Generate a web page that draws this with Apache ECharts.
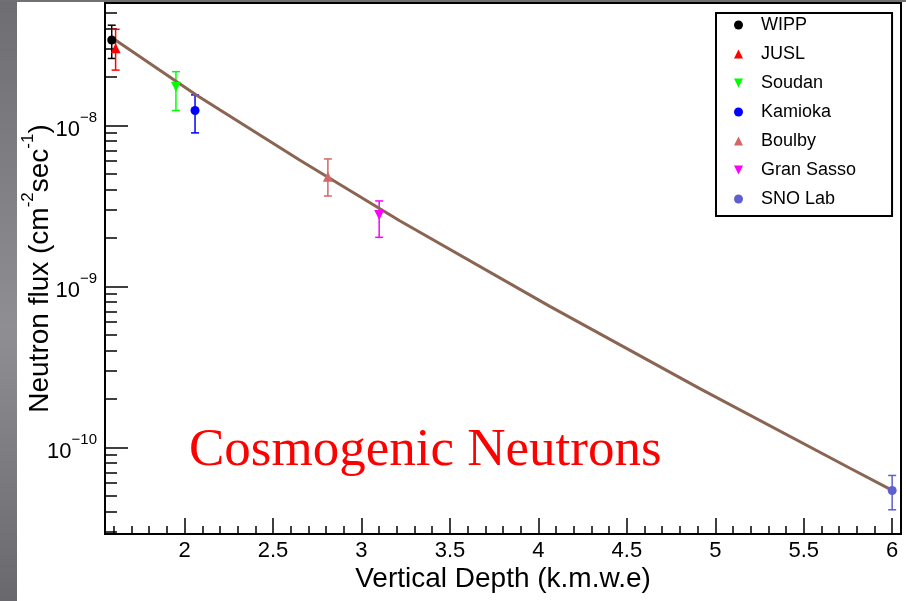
<!DOCTYPE html>
<html>
<head>
<meta charset="utf-8">
<script src="https://cdn.jsdelivr.net/npm/echarts@6/dist/echarts.min.js"></script>
<style>
  html, body { margin: 0; padding: 0; background: #ffffff; }
  #chart { width: 906px; height: 601px; }
</style>
</head>
<body>
<div id="chart"></div>
<script>
// ---- data ----
const labs    = ['WIPP', 'JUSL', 'Soudan', 'Kamioka', 'Boulby', 'Gran Sasso', 'SNO Lab'];
const depth   = [1.588, 1.61, 1.951, 2.059, 2.81, 3.10, 6.00];
const flux    = [3.4e-8, 3.02e-8, 1.74e-8, 1.24e-8, 4.8e-9, 2.78e-9, 5.4e-11];
const fluxHi  = [4.2e-8, 3.96e-8, 2.16e-8, 1.55e-8, 6.2e-9, 3.4e-9, 6.7e-11];
const fluxLo  = [2.61e-8, 2.21e-8, 1.24e-8, 9.0e-9, 3.65e-9, 2.02e-9, 4.1e-11];

// fit curve
const fitDepth = [1.592, 2.066, 2.650, 3.216, 4.065, 4.913, 5.762, 6.017];
const fitFlux  = [3.50e-8, 1.547e-8, 6.1e-9, 2.56e-9, 7.52e-10, 2.32e-10, 7.43e-11, 5.3e-11];

// tick positions
const xMajorTicks = [2, 2.5, 3, 3.5, 4, 4.5, 5, 5.5, 6];
const xMinorTicks = [1.6, 1.7, 1.8, 1.9, 2.1, 2.2, 2.3, 2.4, 2.6, 2.7, 2.8, 2.9, 3.1, 3.2, 3.3, 3.4,
                     3.6, 3.7, 3.8, 3.9, 4.1, 4.2, 4.3, 4.4, 4.6, 4.7, 4.8, 4.9, 5.1, 5.2, 5.3, 5.4,
                     5.6, 5.7, 5.8, 5.9, 6.0];
const yMajorTicks = [1e-10, 1e-9, 1e-8];
const yMinorTicks = [3e-11, 4e-11, 5e-11, 6e-11, 7e-11, 8e-11, 9e-11,
                     2e-10, 3e-10, 4e-10, 5e-10, 6e-10, 7e-10, 8e-10, 9e-10,
                     2e-9, 3e-9, 4e-9, 5e-9, 6e-9, 7e-9, 8e-9, 9e-9,
                     2e-8, 3e-8, 4e-8, 5e-8];

// ---- styles ----
const colors  = ['#000000', '#ff0000', '#00ff00', '#0000ff', '#d26767', '#ff00ff', '#5f5fd2'];
const TRI_UP   = 'path://M5,0 L10,10 L0,10 Z';
const TRI_DOWN = 'path://M0,0 L10,0 L5,10 Z';
const symbols = ['circle', TRI_UP, TRI_DOWN, 'circle', TRI_UP, TRI_DOWN, 'circle'];
const FONT = '"Liberation Sans", Arial, Helvetica, sans-serif';
const X_MIN = 1.55, X_MAX = 6.05, Y_MIN = 2.9e-11, Y_MAX = 5.77e-8;

const chart = echarts.init(document.getElementById('chart'), null, { renderer: 'canvas' });

const scatterSeries = labs.map((name, i) => ({
  name: name,
  type: 'scatter',
  xAxisIndex: 0, yAxisIndex: 0,
  symbol: symbols[i],
  symbolSize: symbols[i] === 'circle' ? 9 : 10,
  itemStyle: { color: colors[i], opacity: 1 },
  data: [[depth[i], flux[i]]],
  z: 5
}));

const option = {
  animation: false,
  backgroundColor: '#ffffff',
  textStyle: { fontFamily: FONT },
  grid: {
    left: 105, right: 5, top: 3, bottom: 67,
    outerBoundsMode: 'none',
    containLabel: false,
    show: true, borderColor: '#000', borderWidth: 2, backgroundColor: '#ffffff'
  },
  legend: {
    orient: 'vertical',
    left: 716, top: 13,
    data: labs.map((n, i) => ({ name: n, icon: symbols[i] })),
    backgroundColor: '#ffffff',
    borderColor: '#000', borderWidth: 2, borderRadius: 0,
    padding: [3, 36, 8, 18],
    itemWidth: 9, itemHeight: 9, itemGap: 11,
    textStyle: { fontFamily: FONT, fontSize: 18, color: '#000', lineHeight: 18, padding: [0, 0, 0, 13] },
    selectedMode: false
  },
  xAxis: [
    {
      type: 'value', min: X_MIN, max: X_MAX, position: 'bottom',
      name: 'Vertical Depth (k.m.w.e)', nameLocation: 'middle', nameGap: 31,
      nameMoveOverlap: false,
      nameTextStyle: { fontFamily: FONT, fontSize: 28, color: '#000' },
      axisLine: { show: true, onZero: false, lineStyle: { color: '#000', width: 2 } },
      axisTick: { show: true, inside: true, length: 16, customValues: xMajorTicks, lineStyle: { color: '#000', width: 1.5 } },
      axisLabel: { show: true, customValues: xMajorTicks, margin: 6, fontFamily: FONT, fontSize: 22, color: '#000',
                   formatter: v => String(Math.round(v * 10) / 10) },
      splitLine: { show: false }
    },
    {
      type: 'value', min: X_MIN, max: X_MAX, position: 'bottom', gridIndex: 0,
      axisLine: { show: false },
      axisTick: { show: true, inside: true, length: 8, customValues: xMinorTicks, lineStyle: { color: '#000', width: 1.5 } },
      axisLabel: { show: false },
      splitLine: { show: false }
    }
  ],
  yAxis: [
    {
      type: 'log', logBase: 10, min: Y_MIN, max: Y_MAX, position: 'left',
      name: '{b|Neutron flux (cm}{s|-2}{b|sec}{s|-1}{b|)}',
      nameLocation: 'middle', nameGap: 51, nameRotate: 90,
      nameMoveOverlap: false,
      nameTextStyle: {
        fontFamily: FONT, color: '#000',
        rich: {
          b: { fontFamily: FONT, fontSize: 28, lineHeight: 34, verticalAlign: 'bottom', color: '#000' },
          s: { fontFamily: FONT, fontSize: 17, lineHeight: 17, verticalAlign: 'top', color: '#000' }
        }
      },
      axisLine: { show: true, onZero: false, lineStyle: { color: '#000', width: 2 } },
      axisTick: { show: true, inside: true, length: 23, customValues: yMajorTicks, lineStyle: { color: '#000', width: 1.5 } },
      axisLabel: {
        show: true, customValues: yMajorTicks, margin: 8,
        formatter: v => '{b|10}{s|\u2212' + Math.round(-Math.log10(v)) + '}',
        rich: {
          b: { fontFamily: FONT, fontSize: 22, lineHeight: 30, verticalAlign: 'bottom', color: '#000' },
          s: { fontFamily: FONT, fontSize: 15, lineHeight: 15, verticalAlign: 'top', color: '#000' }
        }
      },
      splitLine: { show: false },
      minorTick: { show: false }
    },
    {
      type: 'log', logBase: 10, min: Y_MIN, max: Y_MAX, position: 'left', gridIndex: 0,
      axisLine: { show: false },
      axisTick: { show: true, inside: true, length: 12, customValues: yMinorTicks, lineStyle: { color: '#000', width: 1.5 } },
      axisLabel: { show: false },
      splitLine: { show: false }
    }
  ],
  graphic: [
    {
      type: 'rect', left: 0, top: 0, z: 100,
      shape: { x: 0, y: 0, width: 17, height: 601 },
      style: {
        fill: new echarts.graphic.LinearGradient(0, 0, 0, 1, [
          { offset: 0, color: '#6e6d72' },
          { offset: 0.55, color: '#8f8e93' },
          { offset: 1, color: '#69686d' }
        ])
      }
    },
    {
      type: 'rect', left: 0, top: 0, z: 100,
      shape: { x: 0, y: 0, width: 906, height: 2 },
      style: { fill: '#707075' }
    },
    {
      type: 'text', left: 189, top: 425, z: 50,
      style: {
        text: 'Cosmogenic Neutrons',
        fontFamily: '"Liberation Serif", "Times New Roman", serif',
        fontSize: 53, fill: '#ff0000'
      }
    }
  ],
  series: [
    {
      name: 'errors',
      type: 'custom',
      xAxisIndex: 0, yAxisIndex: 0,
      z: 3,
      data: labs.map((n, i) => [depth[i], fluxLo[i], fluxHi[i]]),
      renderItem: function (params, api) {
        const x = api.value(0), lo = api.value(1), hi = api.value(2);
        const p1 = api.coord([x, lo]);
        const p2 = api.coord([x, hi]);
        const c = colors[params.dataIndex];
        const w = 4;
        const st = { stroke: c, lineWidth: 1.5 };
        return {
          type: 'group',
          children: [
            { type: 'line', shape: { x1: p1[0], y1: p1[1], x2: p2[0], y2: p2[1] }, style: st },
            { type: 'line', shape: { x1: p1[0] - w, y1: p1[1], x2: p1[0] + w, y2: p1[1] }, style: st },
            { type: 'line', shape: { x1: p2[0] - w, y1: p2[1], x2: p2[0] + w, y2: p2[1] }, style: st }
          ]
        };
      }
    },
    {
      name: 'fit',
      type: 'line',
      xAxisIndex: 0, yAxisIndex: 0,
      z: 4,
      showSymbol: false, symbol: 'none',
      smooth: false,
      lineStyle: { color: '#8a6553', width: 3 },
      data: fitDepth.map((d, i) => [d, fitFlux[i]])
    }
  ].concat(scatterSeries)
};

chart.setOption(option);
</script>
</body>
</html>
